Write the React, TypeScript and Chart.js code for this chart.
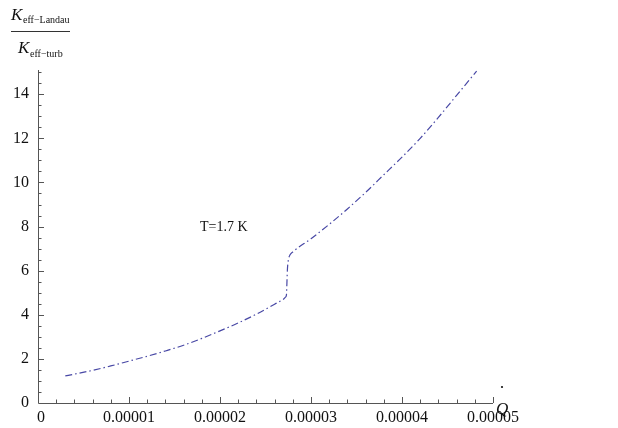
import React, { useEffect, useRef } from "react";
import { Chart, registerables } from "chart.js";

Chart.register(...registerables);

// Heat flux Q-dot values (W) and ratio K_eff-Landau / K_eff-turb
const qDot = [
  3.0e-6, 4.0e-6, 6.0e-6, 8.0e-6, 1.0e-5, 1.2e-5, 1.4e-5, 1.6e-5, 1.8e-5, 2.0e-5,
  2.2e-5, 2.4e-5, 2.6e-5, 2.7e-5, 2.72e-5, 2.73e-5, 2.735e-5, 2.74e-5, 2.75e-5,
  2.77e-5, 2.8e-5, 3.0e-5, 3.2e-5, 3.4e-5, 3.6e-5, 3.8e-5, 4.0e-5, 4.2e-5, 4.4e-5,
  4.6e-5, 4.82e-5,
];
const kRatio = [
  1.23, 1.31, 1.48, 1.68, 1.9, 2.12, 2.36, 2.62, 2.93, 3.27,
  3.63, 4.03, 4.48, 4.72, 4.8, 4.9, 5.4, 6.0, 6.45,
  6.72, 6.85, 7.45, 8.1, 8.8, 9.55, 10.35, 11.15, 12.0, 12.95,
  13.95, 15.05,
];

const xTickValues = [0, 1e-5, 2e-5, 3e-5, 4e-5, 5e-5];
const xTickLabels = ["0", "0.00001", "0.00002", "0.00003", "0.00004", "0.00005"];
const yTickValues = [0, 2, 4, 6, 8, 10, 12, 14];
const yTickLabels = ["0", "2", "4", "6", "8", "10", "12", "14"];

const annotationText = "T=1.7 K";

const SERIF = "'Liberation Serif', 'Times New Roman', serif";
const AXIS_COLOR = "#555";

const axesPlugin = {
  id: "mathAxes",
  afterDraw(chart: any) {
    const ctx = chart.ctx;
    const xs = chart.scales.x;
    const ys = chart.scales.y;
    const x0 = xs.getPixelForValue(0);
    const y0 = ys.getPixelForValue(0);
    const xEnd = xs.getPixelForValue(xs.max);
    const yTop = ys.getPixelForValue(ys.max);
    ctx.save();
    ctx.strokeStyle = AXIS_COLOR;
    ctx.lineWidth = 1;
    // axes lines
    ctx.beginPath();
    ctx.moveTo(x0 + 0.5, y0 + 0.5);
    ctx.lineTo(xEnd, y0 + 0.5);
    ctx.moveTo(x0 + 0.5, y0 + 0.5);
    ctx.lineTo(x0 + 0.5, yTop);
    ctx.stroke();
    // x ticks
    ctx.beginPath();
    for (let i = 1; i <= 25; i++) {
      const v = i * 2e-6;
      const px = Math.round(xs.getPixelForValue(v)) + 0.5;
      const major = i % 5 === 0;
      ctx.moveTo(px, y0);
      ctx.lineTo(px, y0 - (major ? 6 : 3.5));
    }
    // y ticks
    for (let i = 1; i <= 30; i++) {
      const v = i * 0.5;
      if (v > ys.max) break;
      const py = Math.round(ys.getPixelForValue(v)) + 0.5;
      const major = i % 4 === 0;
      ctx.moveTo(x0, py);
      ctx.lineTo(x0 + (major ? 6 : 3.5), py);
    }
    ctx.stroke();

    // tick labels
    ctx.fillStyle = "#111";
    ctx.font = `16px ${SERIF}`;
    ctx.textAlign = "center";
    ctx.textBaseline = "top";
    xTickValues.forEach((v, i) => {
      const px = xs.getPixelForValue(v);
      ctx.fillText(xTickLabels[i], i === 0 ? px + 3 : px, y0 + 7);
    });
    ctx.textAlign = "right";
    ctx.textBaseline = "middle";
    yTickValues.forEach((v, i) => {
      const py = ys.getPixelForValue(v);
      ctx.fillText(yTickLabels[i], x0 - 9, py);
    });

    // x axis label: Q with dot
    ctx.font = `italic 17px ${SERIF}`;
    ctx.textAlign = "left";
    ctx.textBaseline = "alphabetic";
    ctx.fillText("Q", xEnd + 3, y0 + 11);
    ctx.beginPath();
    ctx.arc(xEnd + 9, y0 - 16, 1.1, 0, Math.PI * 2);
    ctx.fill();

    // y axis label fraction
    ctx.font = `italic 17px ${SERIF}`;
    ctx.fillText("K", 11, 20);
    ctx.font = `10px ${SERIF}`;
    ctx.fillText("eff\u2212Landau", 23, 23);
    ctx.beginPath();
    ctx.moveTo(11, 31.5);
    ctx.lineTo(70, 31.5);
    ctx.strokeStyle = "#333";
    ctx.stroke();
    ctx.font = `italic 17px ${SERIF}`;
    ctx.fillText("K", 18, 53);
    ctx.font = `10px ${SERIF}`;
    ctx.fillText("eff\u2212turb", 30, 57);

    // annotation
    ctx.font = `14px ${SERIF}`;
    ctx.textAlign = "left";
    ctx.textBaseline = "middle";
    ctx.fillText(annotationText, 200, 227);
    ctx.restore();
  },
};

export default function App() {
  const ref = useRef<HTMLCanvasElement | null>(null);
  useEffect(() => {
    document.body.style.margin = "0";
    const canvas = ref.current!;
    const chart = new Chart(canvas, {
      type: "line",
      data: {
        datasets: [
          {
            data: qDot.map((q, i) => ({ x: q, y: kRatio[i] })),
            borderColor: "rgb(72,72,165)",
            borderWidth: 1.2,
            borderDash: [7, 3, 1.5, 3],
            pointRadius: 0,
            fill: false,
            cubicInterpolationMode: "monotone",
          },
        ],
      },
      options: {
        responsive: false,
        animation: false,
        devicePixelRatio: 1,
        layout: { padding: { left: 38, right: 125, top: 70, bottom: 25 } },
        plugins: { legend: { display: false }, tooltip: { enabled: false } },
        scales: {
          x: { type: "linear", min: 0, max: 5e-5, display: false },
          y: { type: "linear", min: 0, max: 15.1, display: false },
        },
      },
      plugins: [axesPlugin],
    });
    return () => chart.destroy();
  }, []);
  return (
    <div style={{ position: "fixed", left: 0, top: 0, width: 618, height: 428, background: "#fff" }}>
      <canvas ref={ref} width={618} height={428} style={{ width: 618, height: 428 }} />
    </div>
  );
}
